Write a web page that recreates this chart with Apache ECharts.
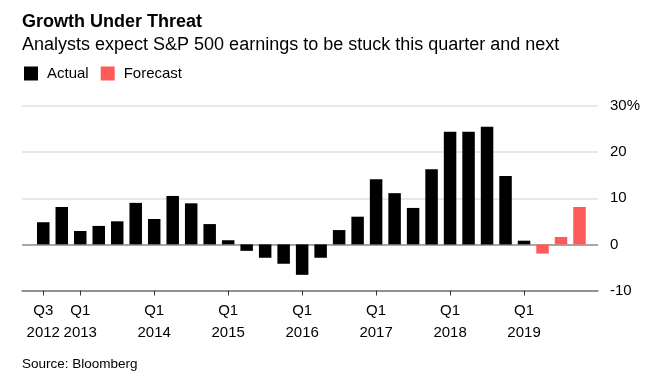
<!DOCTYPE html>
<html>
<head>
<meta charset="utf-8">
<script src="https://cdn.jsdelivr.net/npm/echarts@6/dist/echarts.min.js"></script>
<style>
html,body{margin:0;padding:0;background:#fff;}
#chart{width:651px;height:389px;}
</style>
</head>
<body>
<div id="chart"></div>
<script>
// Quarters from Q3 2012 to Q4 2019
var quarters = ['Q3 2012','Q4 2012',
  'Q1 2013','Q2 2013','Q3 2013','Q4 2013',
  'Q1 2014','Q2 2014','Q3 2014','Q4 2014',
  'Q1 2015','Q2 2015','Q3 2015','Q4 2015',
  'Q1 2016','Q2 2016','Q3 2016','Q4 2016',
  'Q1 2017','Q2 2017','Q3 2017','Q4 2017',
  'Q1 2018','Q2 2018','Q3 2018','Q4 2018',
  'Q1 2019','Q2 2019','Q3 2019','Q4 2019'];
// Actual earnings growth (%), Q3 2012 .. Q1 2019
var actualValues = [4.8, 8.1, 2.9, 4.0, 5.0, 9.0, 5.5, 10.5, 8.9, 4.4,
  0.9, -1.4, -2.9, -4.2, -6.6, -2.9, 3.1, 6.0, 14.1, 11.1,
  7.9, 16.3, 24.4, 24.4, 25.5, 14.8, 0.8];
// Forecast earnings growth (%), Q2 2019 .. Q4 2019
var forecastValues = [-2.0, 1.6, 8.1];
// Labelled ticks on the x axis
var tickQuarters = ['Q3 2012','Q1 2013','Q1 2014','Q1 2015','Q1 2016','Q1 2017','Q1 2018','Q1 2019'];
var yTicks = [-10, 0, 10, 20, 30];

var FONT = "'Liberation Sans', Arial, Helvetica, sans-serif";
var actualData = actualValues.map(function (v, i) { return [i, v]; });
var forecastData = forecastValues.map(function (v, i) { return [actualValues.length + i, v]; });
var tickIdx = tickQuarters.map(function (q) { return quarters.indexOf(q); });

var chart = echarts.init(document.getElementById('chart'), null, {renderer: 'canvas'});
chart.setOption({
  animation: false,
  backgroundColor: '#fff',
  textStyle: {fontFamily: FONT},
  title: [
    {text: 'Growth Under Threat', left: 17, top: 8.5,
     textStyle: {fontFamily: FONT, fontSize: 18, fontWeight: 'bold', color: '#000'}},
    {text: 'Analysts expect S&P 500 earnings to be stuck this quarter and next', left: 17, top: 31,
     textStyle: {fontFamily: FONT, fontSize: 18, fontWeight: 'normal', color: '#000'}},
    {text: 'Source: Bloomberg', left: 17, top: 352,
     textStyle: {fontFamily: FONT, fontSize: 13.5, fontWeight: 'normal', color: '#000'}}
  ],
  legend: {
    left: 19, top: 61, itemWidth: 14, itemHeight: 14, itemGap: 12,
    icon: 'rect',
    textStyle: {fontFamily: FONT, fontSize: 15, color: '#000', padding: [0, 0, 0, 4]},
    data: ['Actual', 'Forecast']
  },
  grid: {left: 22, right: 53, top: 106, bottom: 98.5},
  xAxis: {
    type: 'value', min: -1.15, max: 30,
    splitLine: {show: false},
    axisLine: {show: true, onZero: false, lineStyle: {color: '#8a8a8a', width: 1.5}},
    axisTick: {show: true, length: 5, customValues: tickIdx, lineStyle: {color: '#333', width: 1}},
    axisLabel: {
      customValues: tickIdx, margin: 9, lineHeight: 22,
      fontFamily: FONT, fontSize: 15, color: '#000',
      formatter: function (v) {
        var q = quarters[Math.round(v)];
        if (!q) return '';
        var p = q.split(' ');
        return p[0] + '\n' + p[1];
      }
    }
  },
  yAxis: {
    type: 'value', position: 'right', min: -10, max: 30, interval: 10,
    axisLine: {show: false}, axisTick: {show: false},
    splitLine: {show: true, lineStyle: {color: ['#8a8a8a', '#8a8a8a', '#e0e0e0', '#e0e0e0', '#e0e0e0'], width: 1.5}},
    axisLabel: {
      margin: 12, fontFamily: FONT, fontSize: 15, color: '#000', align: 'left',
      formatter: function (v) { return v === yTicks[yTicks.length - 1] ? v + '%' : String(v); }
    }
  },
  series: [
    {name: 'Actual', type: 'bar', data: actualData, barWidth: 12.5, barGap: '-100%',
     itemStyle: {color: '#000'}, z: 1},
    {name: 'Forecast', type: 'bar', data: forecastData, barWidth: 12.5, barGap: '-100%',
     itemStyle: {color: '#ff5a5a'}, z: 1}
  ]
});
</script>
</body>
</html>
